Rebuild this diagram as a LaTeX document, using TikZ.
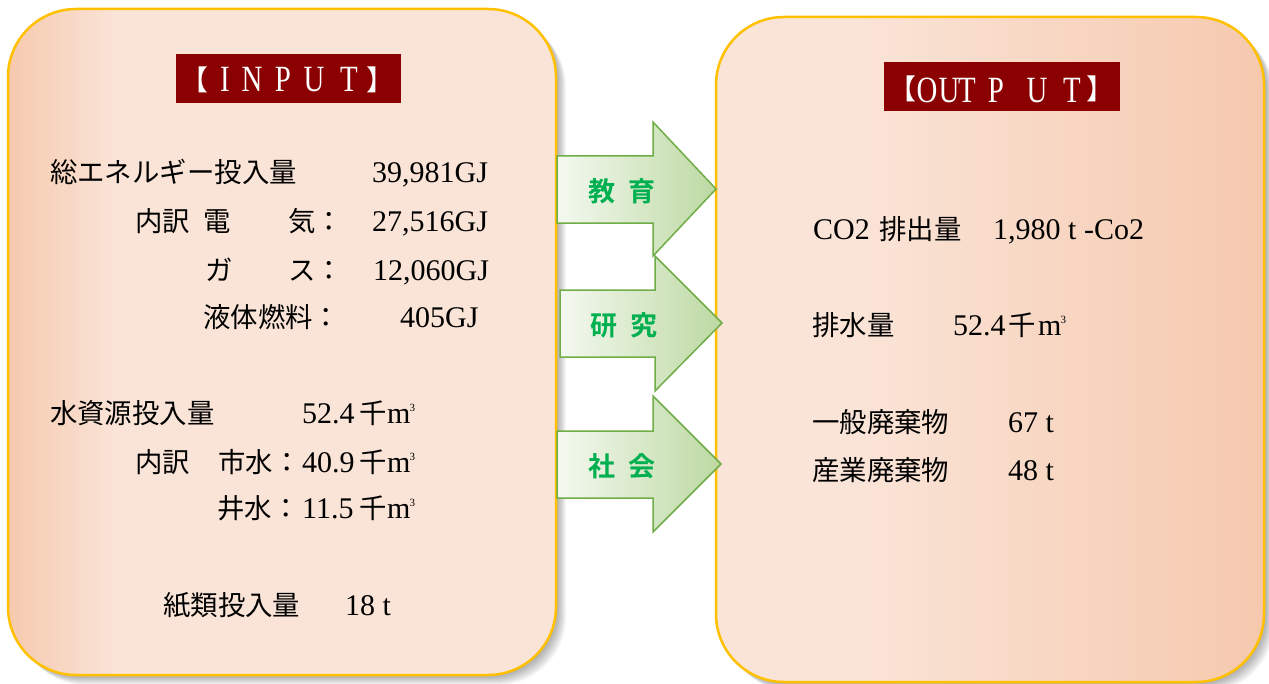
\documentclass[tikz,border=0pt]{standalone}
\usepackage{fontspec}
\usepackage{graphicx}
\setmainfont{Liberation Serif}
\newfontfamily\jp{Noto Sans CJK JP}[BoldFont={Noto Sans CJK JP Bold}]
\definecolor{boxlight}{RGB}{250,228,215}
\definecolor{boxdark}{RGB}{246,201,174}
\definecolor{boxline}{RGB}{255,192,0}
\definecolor{titlered}{RGB}{139,0,0}
\definecolor{arrline}{RGB}{112,173,71}
\definecolor{arrleft}{RGB}{244,249,240}
\definecolor{arrright}{RGB}{189,217,163}
\definecolor{labgreen}{RGB}{0,176,80}
\newcommand\cubm{m\kern-1bp\raisebox{12bp}{\fontsize{11bp}{11bp}\selectfont 3}}
\newcommand\tlet[1]{\scalebox{0.78}[1]{#1}}
\begin{document}
\begin{tikzpicture}[x=1bp,y=-1bp,
  jt/.style={anchor=base west,inner sep=0pt,font={\fontsize{27.4bp}{32bp}\jp}},
  lt/.style={anchor=base west,inner sep=0pt,font={\fontsize{30bp}{34bp}\selectfont}},
  ttlbox/.style={fill=titlered,inner sep=0pt},
  ttlch/.style={anchor=base,inner sep=0pt,text=white,font={\fontsize{37bp}{40bp}\selectfont}},
  brk/.style={inner sep=0pt,text=white,font={\fontsize{28bp}{30bp}\jp}},
  bluck/.style={draw=arrline,line width=1.5bp,left color=arrleft,right color=arrright},
  lab/.style={inner sep=0pt,text=labgreen,font={\fontsize{27bp}{30bp}\jp\bfseries}},
  frame/.style={draw=boxline,line width=2.5bp,rounded corners=68bp},
  shad/.style={fill=black,opacity=0.035,rounded corners=68bp},
]
\useasboundingbox (0,0) rectangle (1269,684);
\fill[white] (0,0) rectangle (1269,684);

% shadows
\foreach \k in {1,...,10}{
  \fill[shad] ({8+\k},{9+\k}) rectangle ({556+\k},{675+\k});
  \fill[shad] ({716+\k},{17+\k}) rectangle ({1264+\k},{682+\k});
}

% left box
\fill[boxlight,rounded corners=68bp] (8,9) rectangle (556,675);
\begin{scope}
  \clip[rounded corners=68bp] (8,9) rectangle (556,675);
  \shade[left color=boxdark,right color=boxlight] (8,9) rectangle (115,675);
\end{scope}
\draw[frame] (8,9) rectangle (556,675);

% right box
\fill[boxlight,rounded corners=68bp] (716,17) rectangle (1264,682);
\begin{scope}
  \clip[rounded corners=68bp] (716,17) rectangle (1264,682);
  \shade[left color=boxlight,right color=boxdark] (860,17) rectangle (1264,682);
\end{scope}
\draw[frame] (716,17) rectangle (1264,682);

% titles
\node[ttlbox,minimum width=225bp,minimum height=49bp] (tin) at (288.5,78.5) {};
\node[brk] (tinb1) at (194.4,80) {【};
\node[ttlch] (tin1) at (225,92) {\tlet{I}};
\node[ttlch] (tin2) at (252,92) {\tlet{N}};
\node[ttlch] (tin3) at (283,92) {\tlet{P}};
\node[ttlch] (tin4) at (314,92) {\tlet{U}};
\node[ttlch] (tin5) at (349,92) {\tlet{T}};
\node[brk] (tinb2) at (380.6,80) {】};

\node[ttlbox,minimum width=236bp,minimum height=49bp] (tout) at (1002,86.5) {};
\node[brk] (toutb1) at (902.4,89) {【};
\node[ttlch] (tout1) at (927,103) {\tlet{O}};
\node[ttlch] (tout2) at (949,103) {\tlet{U}};
\node[ttlch] (tout3) at (967,103) {\tlet{T}};
\node[ttlch] (tout4) at (996,103) {\tlet{P}};
\node[ttlch] (tout5) at (1037,103) {\tlet{U}};
\node[ttlch] (tout6) at (1072,103) {\tlet{T}};
\node[brk] (toutb2) at (1100.6,89) {】};

% arrows
\path[bluck] (557,156) -- (653,156) -- (653,122) -- (716,189) -- (653,256) -- (653,223) -- (557,223) -- cycle;
\path[bluck] (560,290) -- (655,290) -- (655,256) -- (722,323) -- (655,391) -- (655,357) -- (560,357) -- cycle;
\path[bluck] (557,431) -- (653,431) -- (653,396) -- (721,464) -- (653,532) -- (653,498) -- (557,498) -- cycle;
\node[lab] (l1) at (622,191.5) {教\hspace{0.45em}育};
\node[lab] (l2) at (624,325) {研\hspace{0.45em}究};
\node[lab] (l3) at (622,466) {社\hspace{0.45em}会};

% input texts
\node[jt] (e1) at (50,183) {総エネルギー投入量};
\node[lt] (e1v) at (372,183) {39,981GJ};
\node[jt] (e2a) at (135,232) {内訳};
\node[jt] (e2b) at (203,232) {電};
\node[jt] (e2c) at (288,232) {気：};
\node[lt] (e2v) at (372,232) {27,516GJ};
\node[jt] (e3b) at (205,280) {ガ};
\node[jt] (e3c) at (288,280) {ス：};
\node[lt] (e3v) at (373,280) {12,060GJ};
\node[jt] (e4b) at (203,327) {液体燃料：};
\node[lt] (e4v) at (400,327) {405GJ};

\node[jt] (w1) at (50,423) {水資源投入量};
\node[lt] (w1v) at (302,423) {52.4};
\node[jt] (w1k) at (359,423) {千};
\node[lt] (w1m) at (387,423) {\cubm};
\node[jt] (w2a) at (135,472) {内訳};
\node[jt] (w2b) at (218,472) {市水：};
\node[lt] (w2v) at (302,472) {40.9};
\node[jt] (w2k) at (359,472) {千};
\node[lt] (w2m) at (387,472) {\cubm};
\node[jt] (w3b) at (217,518) {井水：};
\node[lt] (w3v) at (302,518) {11.5};
\node[jt] (w3k) at (359,518) {千};
\node[lt] (w3m) at (387,518) {\cubm};

\node[jt] (p1) at (163,615) {紙類投入量};
\node[lt] (p1v) at (345,615) {18 t};

% output texts
\node[lt] (o1a) at (813,240) {CO2};
\node[jt] (o1b) at (879,240) {排出量};
\node[lt] (o1v) at (993,240) {1,980 t -Co2};
\node[jt] (o2a) at (812,335) {排水量};
\node[lt] (o2v) at (953,335) {52.4};
\node[jt] (o2k) at (1008,335) {千};
\node[lt] (o2m) at (1038,335) {\cubm};
\node[jt] (o3a) at (812,432) {一般廃棄物};
\node[lt] (o3v) at (1008,432) {67 t};
\node[jt] (o4a) at (812,480) {産業廃棄物};
\node[lt] (o4v) at (1008,480) {48 t};
\end{tikzpicture}
\end{document}
